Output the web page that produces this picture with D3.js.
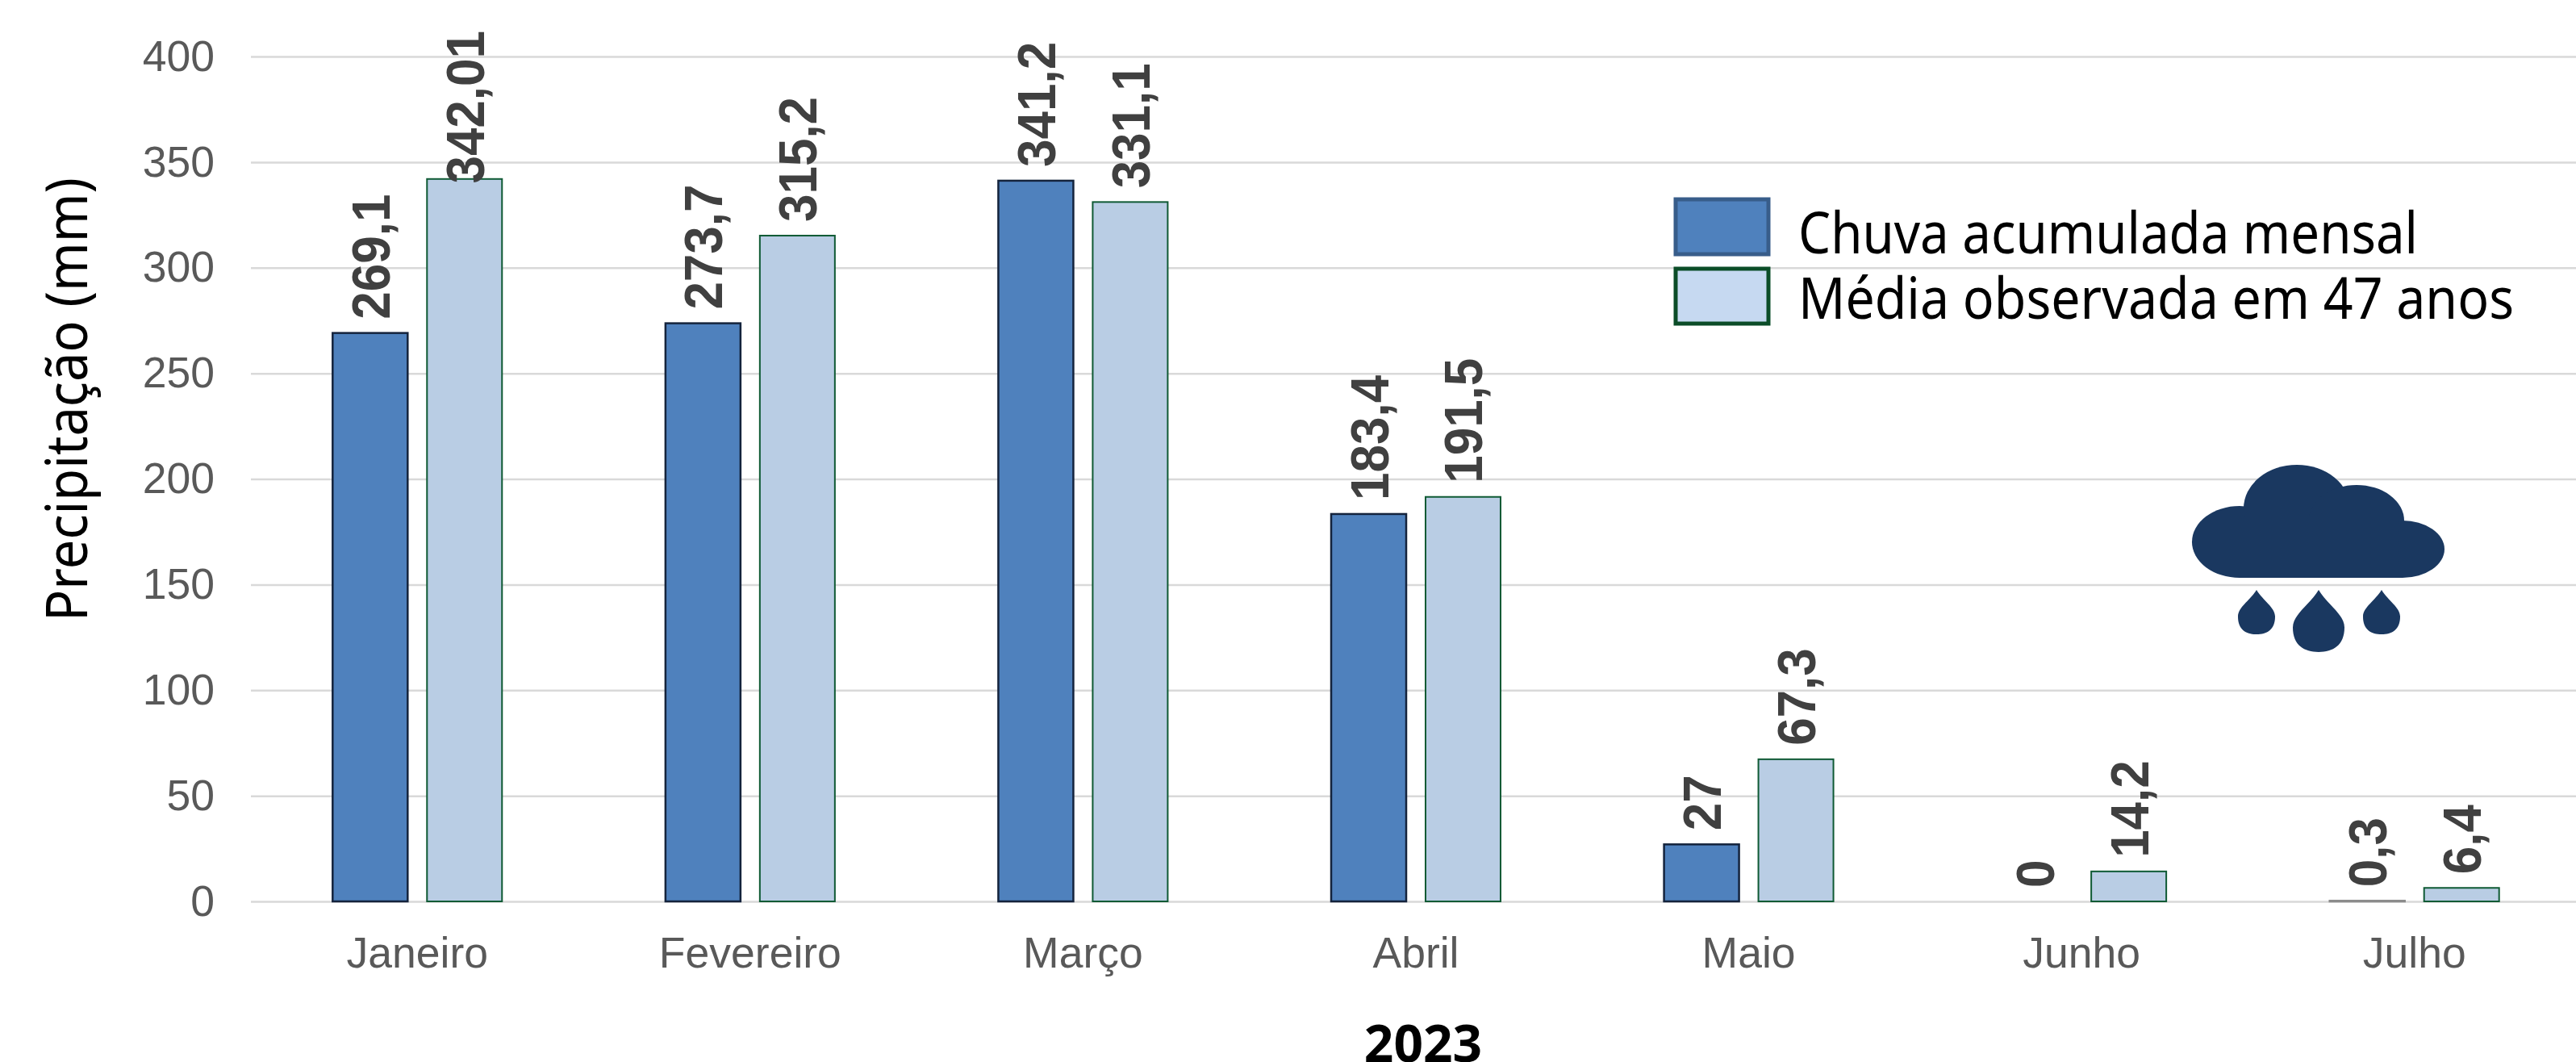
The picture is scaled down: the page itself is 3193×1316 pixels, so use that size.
<!DOCTYPE html>
<html>
<head>
<meta charset="utf-8">
<script src="https://d3js.org/d3.v7.min.js"></script>
<style>
  html, body { margin: 0; padding: 0; background: #fff; overflow: hidden; }
  svg { display: block; }
</style>
</head>
<body>
<svg width="3193" height="1316"></svg>
<script>
// Monthly rain, 2023, against the 47 year average
const months = ["Janeiro", "Fevereiro", "Março", "Abril", "Maio", "Junho", "Julho"];
const chuva = [269.1, 273.7, 341.2, 183.4, 27, 0, 0.3];
const media = [342.01, 315.2, 331.1, 191.5, 67.3, 14.2, 6.4];
const seriesNames = ["Chuva acumulada mensal", "Média observada em 47 anos"];
const yTicks = [0, 50, 100, 150, 200, 250, 300, 350, 400];

const svg = d3.select("svg");
const margin = { top: 70, bottom: 199, left: 311 };
const height = 1316;

const x0 = d3.scaleBand().domain(months).range([311, 3199]);
const x1 = d3
  .scaleBand()
  .domain(seriesNames)
  .range([0, x0.bandwidth()])
  .paddingInner(0.205)
  .paddingOuter(0.866);
const y = d3.scaleLinear().domain([0, 400]).range([height - margin.bottom - 0, margin.top]);

// Grid lines come from the y axis ticks
const yAxis = svg
  .append("g")
  .attr("transform", `translate(${margin.left},0)`)
  .call(d3.axisLeft(y).tickValues(yTicks).tickSize(-(3199 - margin.left)).tickPadding(45));
yAxis.select(".domain").remove();
yAxis.selectAll("line").attr("stroke", "#d9d9d9").attr("stroke-width", 2.5);
yAxis
  .selectAll("text")
  .attr("fill", "#595959")
  .style("font", "53.5px 'Liberation Sans'");

const xAxis = svg
  .append("g")
  .attr("transform", `translate(0,${y(0)})`)
  .call(d3.axisBottom(x0).tickSize(0).tickPadding(44));
xAxis.select(".domain").remove();
xAxis
  .selectAll("text")
  .attr("fill", "#595959")
  .style("font", "53.5px 'Liberation Sans'");

const rows = months.map((m, i) => ({ month: m, values: [chuva[i], media[i]] }));

const groups = svg
  .selectAll(".month")
  .data(rows)
  .enter()
  .append("g")
  .attr("class", "month")
  .attr("transform", (d) => `translate(${x0(d.month)},0)`);

// Bars, a zero value gets no bar at all
groups
  .selectAll("rect")
  .data((d) => d.values.map((v, i) => ({ v, name: seriesNames[i], i })).filter((d) => d.v > 0))
  .enter()
  .append("rect")
  .attr("x", (d) => x1(d.name))
  .attr("y", (d) => y(d.v))
  .attr("width", x1.bandwidth())
  .attr("height", (d) => y(0) - y(d.v))
  .attr("fill", (d) => (d.i === 0 ? "#4f81bd" : "#b9cde4"))
  .attr("stroke", (d) => (d.v < 1 ? "#8c8c8c" : d.i === 0 ? "#14233c" : "#0f5a34"))
  .attr("stroke-width", (d) => (d.i === 0 ? 2.5 : 2));

// Value labels, rotated. 342,01 hits the top of the chart area and gets pushed down.
const labelTop = 38;
groups
  .selectAll(".valor")
  .data((d) => d.values.map((v, i) => ({ v, name: seriesNames[i] })))
  .enter()
  .append("text")
  .attr("class", "valor")
  .text((d) => String(d.v).replace(".", ","))
  .attr("fill", "#404040")
  .style("font", "bold 67px 'Liberation Sans'")
  .attr("transform", function (d) {
    const len = this.getComputedTextLength() * 0.925;
    const bottom = Math.max(y(d.v) - 17, labelTop + len);
    return `translate(${x1(d.name) + x1.bandwidth() / 2 + 24},${bottom}) rotate(-90) scale(0.925,1)`;
  });

// Axis titles
svg
  .append("text")
  .text("Precipitação (mm)")
  .attr("transform", "translate(108,770) rotate(-90)")
  .attr("textLength", 550)
  .attr("lengthAdjust", "spacingAndGlyphs")
  .attr("fill", "#000")
  .style("font", "71px 'Noto Sans'");

svg
  .append("text")
  .text("2023")
  .attr("x", 1764)
  .attr("y", 1316)
  .attr("text-anchor", "middle")
  .attr("fill", "#000")
  .style("font", "bold 64px 'Noto Sans'");

// Legend
const legendRows = [
  { name: seriesNames[0], top: 247, fill: "#4f81bd", stroke: "#385d8a", baseline: 314, len: 768 },
  { name: seriesNames[1], top: 333, fill: "#c6d9f1", stroke: "#0b4d28", baseline: 395, len: 887 },
];
const legend = svg.append("g").attr("class", "legend");
legend
  .selectAll("rect")
  .data(legendRows)
  .enter()
  .append("rect")
  .attr("x", 2077)
  .attr("y", (d) => d.top)
  .attr("width", 115)
  .attr("height", 68)
  .attr("fill", (d) => d.fill)
  .attr("stroke", (d) => d.stroke)
  .attr("stroke-width", 5);
legend
  .selectAll("text")
  .data(legendRows)
  .enter()
  .append("text")
  .text((d) => d.name)
  .attr("x", 2229)
  .attr("y", (d) => d.baseline)
  .attr("textLength", (d) => d.len)
  .attr("lengthAdjust", "spacingAndGlyphs")
  .attr("fill", "#000")
  .style("font", "71px 'Noto Sans'");

// Rain cloud icon
const icon = svg.append("g").attr("fill", "#1a3860");
[
  [2776, 671.5, 59, 44.5],
  [2847, 630, 66, 54],
  [2921, 645, 59, 44],
  [2978, 680.5, 52, 35.5],
].forEach(([cx, cy, rx, ry]) => {
  icon.append("ellipse").attr("cx", cx).attr("cy", cy).attr("rx", rx).attr("ry", ry);
});
icon.append("rect").attr("x", 2776).attr("y", 640).attr("width", 202).attr("height", 76);

function drop(cx, tip, bottom, hw) {
  const cy = bottom - hw * 0.95;
  const up = (cy - tip) * 0.35;
  const c1 = tip + (cy - tip) * 0.4;
  return `M${cx},${tip} C${cx + hw * 0.35},${c1} ${cx + hw},${cy - up} ${cx + hw},${cy}
    C${cx + hw},${bottom - hw * 0.25} ${cx + hw * 0.55},${bottom} ${cx},${bottom}
    C${cx - hw * 0.55},${bottom} ${cx - hw},${bottom - hw * 0.25} ${cx - hw},${cy}
    C${cx - hw},${cy - up} ${cx - hw * 0.35},${c1} ${cx},${tip} Z`;
}
icon.append("path").attr("d", drop(2797, 731, 786, 23));
icon.append("path").attr("d", drop(2874, 731, 808, 32));
icon.append("path").attr("d", drop(2952, 731, 786, 23));
</script>
</body>
</html>
